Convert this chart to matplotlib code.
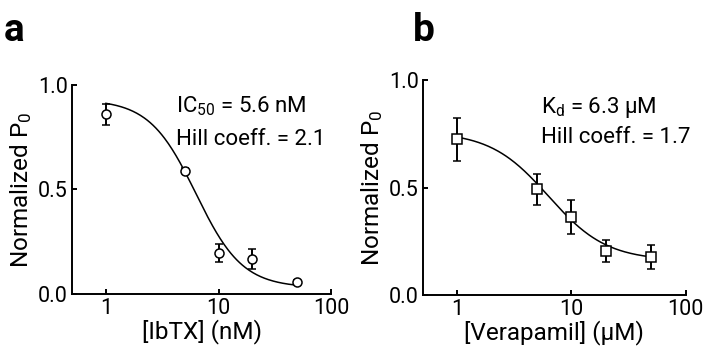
import numpy as np
import matplotlib
matplotlib.use("Agg")
import matplotlib.pyplot as plt

plt.rcParams['font.family'] = ['Roboto', 'DejaVu Sans']
plt.rcParams['mathtext.fontset'] = 'custom'
plt.rcParams['mathtext.rm'] = 'Roboto'
plt.rcParams['mathtext.it'] = 'Roboto'

# panel a: IbTX
conc_a = [1, 5, 10, 20, 50]
po_a = [0.86, 0.59, 0.196, 0.167, 0.057]
err_a = [0.05, 0.01, 0.045, 0.05, 0.01]
fit_a = dict(top=0.93, bottom=0.03, k=6.3, n=2.1)

# panel b: verapamil
conc_b = [1, 5, 10, 20, 50]
po_b = [0.726, 0.493, 0.363, 0.205, 0.177]
err_b = [0.10, 0.072, 0.077, 0.051, 0.058]
fit_b = dict(top=0.76, bottom=0.16, k=6.3, n=1.7)

xticks = [1, 10, 100]
xticklabels = ['1', '10', '100']
yticks = [0.0, 0.5, 1.0]
yticklabels = ['0.0', '0.5', '1.0']


def hill(x, top, bottom, k, n):
    return bottom + (top - bottom) / (1 + (x / k) ** n)


def style_axes(ax, xlabel):
    ax.set_xscale('log')
    ax.set_xlim(0.5, 100)
    ax.set_ylim(0, 1.0)
    ax.set_xticks(xticks)
    ax.set_xticklabels(xticklabels)
    ax.xaxis.set_minor_locator(matplotlib.ticker.NullLocator())
    ax.set_yticks(yticks)
    ax.set_yticklabels(yticklabels)
    for s in ['top', 'right']:
        ax.spines[s].set_visible(False)
    for s in ['left', 'bottom']:
        ax.spines[s].set_linewidth(1.4)
    ax.tick_params(direction='in', length=3.5, width=1.4, labelsize=15.5, pad=3)
    ax.set_xlabel(xlabel, fontsize=17.5, labelpad=0)
    ax.set_ylabel(r'Normalized P$_0$', fontsize=17.5, labelpad=3)


fig = plt.figure(figsize=(7.06, 3.58), dpi=100)
ax1 = fig.add_axes([0.102, 0.179, 0.367, 0.584])
ax2 = fig.add_axes([0.599, 0.176, 0.372, 0.600])

xs = np.logspace(np.log10(conc_a[0]), np.log10(conc_a[-1]), 200)
ax1.plot(xs, hill(xs, **fit_a), color='black', lw=1.1, zorder=2)
ax1.errorbar(conc_a, po_a, yerr=err_a, fmt='o', ms=6.5, mfc='white', mec='black',
             mew=1.1, ecolor='black', elinewidth=1.4, capsize=3, capthick=1.4, zorder=3)
style_axes(ax1, '[IbTX] (nM)')
ax1.text(0.40, 0.87, r'IC$_{50}$ = 5.6 nM', transform=ax1.transAxes, fontsize=16)
ax1.text(0.40, 0.713, 'Hill coeff. = 2.1', transform=ax1.transAxes, fontsize=16)

xs = np.logspace(np.log10(conc_b[0]), np.log10(conc_b[-1]), 200)
ax2.plot(xs, hill(xs, **fit_b), color='black', lw=1.1, zorder=2)
ax2.errorbar(conc_b, po_b, yerr=err_b, fmt='s', ms=6.8, mfc='white', mec='black',
             mew=1.1, ecolor='black', elinewidth=1.4, capsize=3, capthick=1.4, zorder=3)
style_axes(ax2, '[Verapamil] (\u03bcM)')
ax2.text(0.45, 0.847, 'K$_{\\rm d}$ = 6.3 \u03bcM', transform=ax2.transAxes, fontsize=16)
ax2.text(0.45, 0.707, 'Hill coeff. = 1.7', transform=ax2.transAxes, fontsize=16)

fig.text(0.005, 0.885, 'a', fontsize=28, fontweight='bold')
fig.text(0.585, 0.885, 'b', fontsize=28, fontweight='bold')

fig.savefig('out.png', dpi=100)
